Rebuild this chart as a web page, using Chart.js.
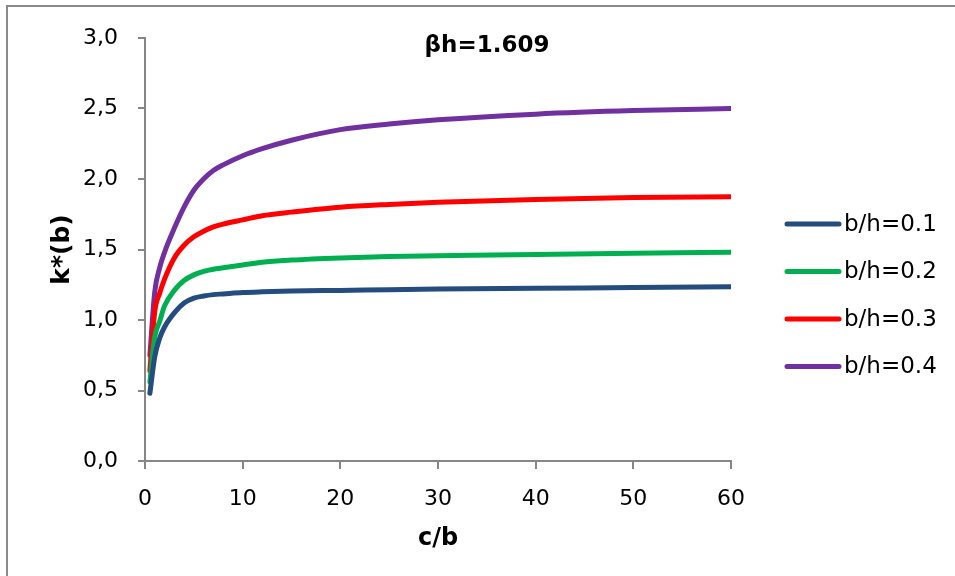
<!DOCTYPE html>
<html>
<head>
<meta charset="utf-8">
<script src="https://cdn.jsdelivr.net/npm/chart.js@4/dist/chart.umd.min.js"></script>
<style>
  html, body { margin: 0; padding: 0; background: #fff; }
  #wrap { width: 955px; height: 576px; position: relative; }
</style>
</head>
<body>
<div id="wrap"><canvas id="kChart"></canvas></div>
<script>
// c/b values (x axis)
const cb = [0.5, 1, 1.5, 2, 3, 4, 5, 6, 7, 8, 10, 12, 15, 20, 25, 30, 40, 50, 60];

// k*(b) for each b/h
const bh01 = [0.48, 0.74, 0.87, 0.95, 1.05, 1.12, 1.155, 1.17, 1.18, 1.185, 1.195, 1.20, 1.205, 1.21, 1.215, 1.22, 1.225, 1.23, 1.235];
const bh02 = [0.56, 0.88, 0.99, 1.10, 1.21, 1.28, 1.32, 1.345, 1.36, 1.37, 1.39, 1.41, 1.425, 1.44, 1.45, 1.455, 1.465, 1.473, 1.48];
const bh03 = [0.64, 1.06, 1.19, 1.29, 1.44, 1.53, 1.59, 1.63, 1.66, 1.68, 1.71, 1.74, 1.765, 1.80, 1.82, 1.835, 1.855, 1.868, 1.875];
const bh04 = [0.75, 1.20, 1.37, 1.48, 1.65, 1.80, 1.92, 2.00, 2.06, 2.10, 2.165, 2.215, 2.275, 2.35, 2.39, 2.42, 2.46, 2.485, 2.50];

const seriesLabels = ['b/h=0.1', 'b/h=0.2', 'b/h=0.3', 'b/h=0.4'];
const seriesColors = ['#244C7E', '#00B050', '#FF0000', '#7030A0'];

const yTicks = [0, 0.5, 1.0, 1.5, 2.0, 2.5, 3.0];
const xTicks = [0, 10, 20, 30, 40, 50, 60];

const chartTitle = 'βh=1.609';
const xTitle = 'c/b';
const yTitle = 'k*(b)';

function pts(ys) {
    return cb.map(function(x, i) { return { x: x, y: ys[i] }; });
}

// frame, title and legend drawn by hand to match the spreadsheet look
const decor = {
    id: 'decor',
    afterDraw: function(chart) {
        const ctx = chart.ctx;
        ctx.save();
        ctx.strokeStyle = '#8a8a8a';
        ctx.lineWidth = 2;
        ctx.strokeRect(7, 6, 1200, 1200);

        ctx.fillStyle = '#000';
        ctx.font = 'bold 23px "DejaVu Sans"';
        ctx.textAlign = 'center';
        ctx.textBaseline = 'middle';
        ctx.fillText(chartTitle, 487, 46);

        ctx.font = '23px "DejaVu Sans"';
        ctx.textAlign = 'left';
        chart.data.datasets.forEach(function(ds, i) {
            const y = 224 + i * 47.5;
            ctx.strokeStyle = ds.borderColor;
            ctx.lineWidth = 5;
            ctx.lineCap = 'round';
            ctx.beginPath();
            ctx.moveTo(787, y);
            ctx.lineTo(839, y);
            ctx.stroke();
            ctx.fillStyle = '#000';
            ctx.fillText(ds.label, 844, y + 1);
        });
        ctx.restore();
    }
};

const ctx = document.getElementById('kChart').getContext('2d');
const kChart = new Chart(ctx, {
    type: 'line',
    data: {
        datasets: [bh01, bh02, bh03, bh04].map(function(ys, i) {
            return {
                label: seriesLabels[i],
                data: pts(ys),
                borderColor: seriesColors[i],
                backgroundColor: seriesColors[i],
                borderWidth: 5,
                borderCapStyle: 'round',
                pointRadius: 0,
                cubicInterpolationMode: 'monotone',
                fill: false
            };
        })
    },
    options: {
        responsive: true,
        maintainAspectRatio: false,
        animation: false,
        layout: { padding: { top: 38, right: 224, left: 0, bottom: 0 } },
        plugins: {
            legend: { display: false },
            title: { display: false },
            tooltip: { enabled: false }
        },
        scales: {
            x: {
                type: 'linear',
                min: 0,
                max: 60,
                afterFit: function(s) { s.height = 115; },
                afterBuildTicks: function(s) { s.ticks = xTicks.map(function(v) { return { value: v }; }); },
                border: { color: '#868686', width: 2 },
                grid: { drawOnChartArea: false, color: '#868686', lineWidth: 2, tickLength: 8 },
                ticks: { color: '#000', font: { family: 'DejaVu Sans', size: 22 }, padding: 17, maxRotation: 0 },
                title: {
                    display: true,
                    text: xTitle,
                    color: '#000',
                    font: { family: 'DejaVu Sans', size: 24, weight: 'bold' },
                    padding: { top: 4, bottom: 23 }
                }
            },
            y: {
                min: 0,
                max: 3,
                afterFit: function(s) { s.width = 145; },
                afterBuildTicks: function(s) { s.ticks = yTicks.map(function(v) { return { value: v }; }); },
                border: { color: '#868686', width: 2 },
                grid: { drawOnChartArea: false, color: '#868686', lineWidth: 2, tickLength: 7 },
                ticks: {
                    color: '#000',
                    font: { family: 'DejaVu Sans', size: 22 },
                    padding: 20,
                    callback: function(v) { return v.toFixed(1).replace('.', ','); }
                },
                title: {
                    display: true,
                    text: yTitle,
                    color: '#000',
                    font: { family: 'DejaVu Sans', size: 25, weight: 'bold' },
                    padding: { top: 47, bottom: 0 }
                }
            }
        }
    },
    plugins: [decor]
});
</script>
</body>
</html>
